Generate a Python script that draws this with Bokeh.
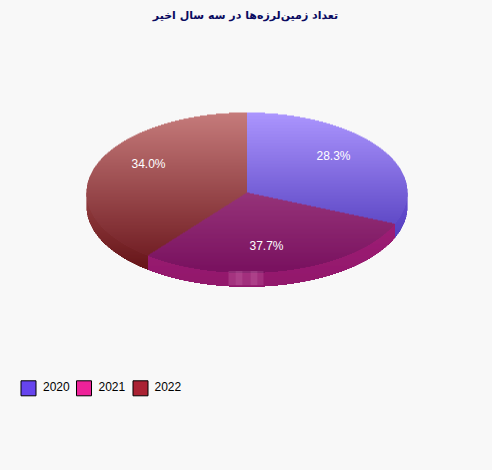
import numpy as np
from bokeh.plotting import figure
from bokeh.models import Range1d
from bokeh.core.properties import value
from bokeh.embed import file_html
from bokeh.resources import INLINE

title = "تعداد زمین‌لرزه‌ها در سه سال اخیر"
categories = ["2020", "2021", "2022"]
shares = [28.3, 37.7, 34.0]
labels = ["28.3%", "37.7%", "34.0%"]
legend_colors = ["#6644ee", "#ee2299", "#aa2233"]
top_grad = [((172, 150, 255), (98, 76, 200)),
            ((150, 52, 122), (122, 18, 96)),
            ((198, 124, 124), (112, 28, 34))]
side_grad = [((104, 80, 210), (86, 64, 190)),
             ((158, 30, 118), (146, 24, 108)),
             ((150, 66, 68), (104, 22, 26))]
BG = "#f8f8f8"

CX, CY, RX, RY, DEPTH = 246.5, 192.0, 160.5, 80.0, 14.0
STEP = 1.0

p = figure(width=492, height=470, output_backend="svg", toolbar_location=None,
           x_range=Range1d(0, 492), y_range=Range1d(470, 0), min_border=0,
           background_fill_color=BG, border_fill_color=BG, outline_line_color=None)
p.axis.visible = False
p.grid.visible = False

edges = np.cumsum([0] + shares) / sum(shares) * 360.0
xs = np.arange(CX - RX - 1, CX + RX + 1, 0.5) + 0.25


def lerp(c, t):
    a, b = np.array(c[0], float), np.array(c[1], float)
    r, g, bl = a + (b - a) * t
    return "#%02x%02x%02x" % (int(r), int(g), int(bl))


def runs(mask):
    d = np.diff(np.concatenate([[0], mask.astype(int), [0]]))
    return list(zip(np.where(d == 1)[0], np.where(d == -1)[0] - 1))


def slice_of(ang):
    return np.clip(np.searchsorted(edges, ang, side="right") - 1, 0, len(shares) - 1)


L, R, T, B, C = [], [], [], [], []
WL, WR, WT, WB, WC = [], [], [], [], []
rows = np.arange(CY - RY - 1, CY + RY + DEPTH + 2, STEP)
spans = [(CY - RY, 222.0), (CY, 270.0), (CY - RY, 262.0)]
side_spans = [(192.0, 240.0), (222.0, 286.0), (192.0, 268.0)]
for y0 in rows:
    yc = y0 + STEP / 2
    dx = (xs - CX) / RX
    dy = (yc - CY) / RY
    in_top = dx ** 2 + dy ** 2 <= 1
    ang = np.degrees(np.arctan2(xs - CX, -(yc - CY))) % 360
    ids = slice_of(ang)
    for i in range(len(shares)):
        m = in_top & (ids == i)
        t = np.clip((yc - spans[i][0]) / (spans[i][1] - spans[i][0]), 0, 1)
        col = lerp(top_grad[i], t)
        for a, b in runs(m):
            L.append(xs[a] - 0.25); R.append(xs[b] + 0.25); T.append(y0); B.append(y0 + STEP + 0.6); C.append(col)
    dy2 = (yc - (CY + DEPTH)) / RY
    in_low = dx ** 2 + dy2 ** 2 <= 1
    wall = (in_low | ((np.abs(dx) <= 1) & (yc > CY) & (yc < CY + DEPTH))) & (yc > CY)
    edge_y = CY + RY * np.sqrt(np.clip(1 - dx ** 2, 0, 1))
    w_ang = np.degrees(np.arctan2(xs - CX, -(edge_y - CY))) % 360
    w_ids = slice_of(w_ang)
    for i in range(len(shares)):
        m = wall & (w_ids == i)
        t = np.clip((yc - side_spans[i][0]) / (side_spans[i][1] - side_spans[i][0]), 0, 1)
        col = lerp(side_grad[i], t)
        for a, b in runs(m):
            WL.append(xs[a] - 0.25); WR.append(xs[b] + 0.25); WT.append(y0); WB.append(y0 + STEP + 0.6); WC.append(col)

# walls first, then the top face over them; each row overlaps the next so no seam shows
p.quad(left=WL, right=WR, top=WT, bottom=WB, fill_color=WC, line_color=None)
p.quad(left=L, right=R, top=T, bottom=B, fill_color=C, line_color=None)

hx = [228, 235, 242, 250, 257]
hw = [7, 7, 8, 7, 6]
ha = [0.16, 0.24, 0.14, 0.24, 0.14]
hr = [a + b for a, b in zip(hx, hw)]
p.quad(left=hx, right=hr, top=[CY + RY - 1.5] * 5, bottom=[CY + RY + DEPTH - 1.2] * 5,
       fill_color="#ffc0e8", fill_alpha=ha, line_color=None)

p.text(x=[333, 266, 148], y=[155, 245, 163], text=labels, text_color="white",
       text_font=value("Liberation Sans"), text_font_size="12px",
       text_align="center", text_baseline="middle")

p.text(x=[245], y=[14.5], text=[title], text_color="#0a0a60",
       text_font=value("DejaVu Sans"), text_font_style="bold", text_font_size="11px",
       text_align="center", text_baseline="middle")

lg_x = [28, 83.5, 140]
p.rect(x=lg_x, y=[387.8] * 3, width=15, height=15, fill_color=legend_colors, line_color="black", line_width=1)
p.text(x=[42.5, 98, 154], y=[385.6] * 3, text=categories, text_color="black",
       text_font=value("Liberation Sans"), text_font_size="12px",
       text_align="left", text_baseline="middle")

template = """{% block preamble %}<style>html,body{margin:0;padding:0;overflow:hidden;background:#f8f8f8}</style>{% endblock %}
"""
open("out.html", "w").write(file_html(p, INLINE, template=template))
